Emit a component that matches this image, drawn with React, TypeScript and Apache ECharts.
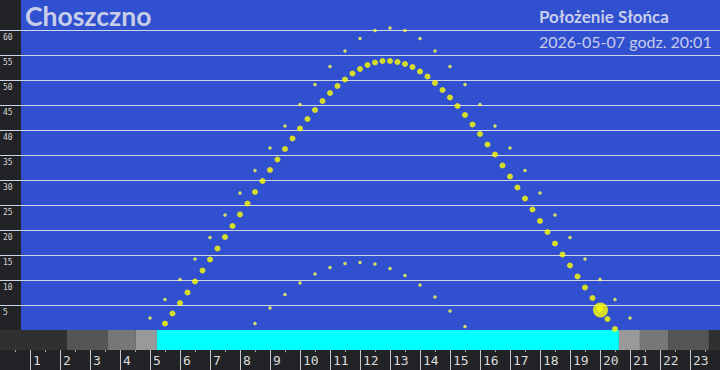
import React, { useEffect, useRef } from 'react';
import * as echarts from 'echarts';

// Sun altitude (degrees) today, every 15 minutes
const todayHours = [
  5.5, 5.75, 6, 6.25, 6.5, 6.75, 7, 7.25, 7.5, 7.75, 8, 8.25, 8.5, 8.75, 9, 9.25,
  9.5, 9.75, 10, 10.25, 10.5, 10.75, 11, 11.25, 11.5, 11.75, 12, 12.25, 12.5, 12.75,
  13, 13.25, 13.5, 13.75, 14, 14.25, 14.5, 14.75, 15, 15.25, 15.5, 15.75, 16, 16.25,
  16.5, 16.75, 17, 17.25, 17.5, 17.75, 18, 18.25, 18.5, 18.75, 19, 19.25, 19.5, 19.75,
  20, 20.25, 20.5,
];
const todayAltitude = [
  1.3, 3.3, 5.4, 7.5, 9.7, 11.9, 14.1, 16.3, 18.6, 20.8, 23.1, 25.3, 27.6, 29.8, 32.0, 34.1,
  36.2, 38.3, 40.3, 42.2, 44.0, 45.8, 47.4, 48.8, 50.1, 51.3, 52.2, 53.0, 53.5, 53.8,
  53.8, 53.6, 53.2, 52.6, 51.7, 50.7, 49.4, 48.0, 46.5, 44.8, 43.0, 41.1, 39.2, 37.1,
  35.1, 32.9, 30.7, 28.5, 26.3, 24.1, 21.8, 19.6, 17.3, 15.1, 12.9, 10.7, 8.5, 6.4,
  4.2, 2.2, 0.2,
];

// Summer solstice path, every 30 minutes
const summerHours = [
  5, 5.5, 6, 6.5, 7, 7.5, 8, 8.5, 9, 9.5, 10, 10.5, 11, 11.5, 12, 12.5, 13,
  13.5, 14, 14.5, 15, 15.5, 16, 16.5, 17, 17.5, 18, 18.5, 19, 19.5, 20, 20.5, 21,
];
const summerAltitude = [
  2.4, 6.1, 10.1, 14.2, 18.5, 23.0, 27.4, 31.9, 36.4, 40.8, 45.1, 49.1, 52.7, 55.8, 58.3, 59.9, 60.4,
  59.9, 58.3, 55.8, 52.7, 49.1, 45.1, 40.8, 36.4, 31.9, 27.4, 23.0, 18.5, 14.2, 10.1, 6.1, 2.4,
];

// Winter solstice path, every 30 minutes
const winterHours = [8.5, 9, 9.5, 10, 10.5, 11, 11.5, 12, 12.5, 13, 13.5, 14, 14.5, 15, 15.5];
const winterAltitude = [1.3, 4.4, 7.1, 9.4, 11.2, 12.5, 13.3, 13.5, 13.2, 12.3, 10.9, 9.0, 6.6, 3.8, 0.7];

// Current sun position
const nowHour = 20.017;
const nowAltitude = 4.0;

// Day / twilight band
const bandStart = [0, 2.23, 3.6, 4.53, 5.23, 20.63, 21.33, 22.27, 23.63];
const bandEnd = [2.23, 3.6, 4.53, 5.23, 20.63, 21.33, 22.27, 23.63, 24];
const bandKind = [0, 1, 2, 3, 4, 3, 2, 1, 0];
const bandColors = ['#303030', '#555555', '#777777', '#999999', '#00ffff'];

const titleText = 'Choszczno';
const subtitleText = 'Położenie Słońca';
const dateText = '2026-05-07 godz. 20:01';

export default function App() {
  const ref = useRef<HTMLDivElement>(null);
  useEffect(() => {
    if (!ref.current) return;
    const chart = echarts.init(ref.current, null, { renderer: 'svg' });
    const textColor = '#c8cdea';
    chart.setOption({
      animation: false,
      backgroundColor: '#222326',
      title: [
        { text: titleText, left: 25, top: 2, padding: 0, textStyle: { fontFamily: 'Lato', fontWeight: 'bold', fontSize: 26.5, color: textColor } },
        { text: subtitleText, left: 539, top: 8, padding: 0, textStyle: { fontFamily: 'Lato', fontWeight: 'bold', fontSize: 17, color: textColor } },
        { text: dateText, left: 539, top: 33, padding: 0, textStyle: { fontFamily: 'Lato', fontWeight: 'normal', fontSize: 16, color: textColor } },
      ],
      graphic: [
        { type: 'rect', z: -100, shape: { x: 21, y: 0, width: 699, height: 330 }, style: { fill: '#3050d0' } },
        { type: 'rect', z: 100, shape: { x: 0, y: 350, width: 2, height: 20 }, style: { fill: '#222326' } },
      ],
      grid: [
        { left: 0, right: 0, top: 30, bottom: 40, containLabel: false, outerBoundsMode: 'none' },
        { left: 0, right: 0, top: 330, height: 20, containLabel: false, outerBoundsMode: 'none' },
      ],
      xAxis: [
        { gridIndex: 0, type: 'value', min: 0, max: 24, show: false },
        {
          gridIndex: 1, type: 'value', min: 0, max: 24, interval: 1, position: 'bottom',
          axisLine: { show: false },
          axisTick: { show: true, inside: false, length: 20, lineStyle: { color: '#c8c8c8', width: 1 } },
          minorTick: { show: true, splitNumber: 2, length: 2, lineStyle: { color: '#a8a8a8', width: 1 } },
          splitLine: { show: false },
          axisLabel: {
            margin: 10, align: 'left', verticalAlign: 'middle', padding: [0, 0, 0, 3],
            showMinLabel: false, showMaxLabel: false, hideOverlap: false,
            fontFamily: 'DejaVu Sans Mono', fontSize: 13, color: '#dddddd',
            formatter: (v: number) => (v > 0 && v < 24 ? String(v) : ''),
          },
        },
      ],
      yAxis: [
        {
          gridIndex: 0, type: 'value', min: 0, max: 60, interval: 5, position: 'left',
          axisLine: { show: false }, axisTick: { show: false },
          splitLine: { show: true, showMinLine: false, lineStyle: { color: '#d0d4e8', width: 1 } },
          axisLabel: {
            inside: true, margin: 3, align: 'left', verticalAlign: 'top', padding: [3, 0, 0, 0],
            fontFamily: 'DejaVu Sans Mono', fontSize: 8, color: '#d8d8d8',
            formatter: (v: number) => (v > 0 ? String(v) : ''),
          },
        },
        { gridIndex: 1, type: 'value', min: 0, max: 1, show: false },
      ],
      series: [
        {
          type: 'custom', xAxisIndex: 1, yAxisIndex: 1,
          data: bandStart.map((s, i) => [s, bandEnd[i], bandKind[i]]),
          encode: { x: [0, 1] },
          renderItem: (params: any, api: any) => {
            const a = api.coord([api.value(0), 1]);
            const b = api.coord([api.value(1), 0]);
            return {
              type: 'rect',
              shape: { x: a[0], y: a[1], width: b[0] - a[0], height: b[1] - a[1] },
              style: { fill: bandColors[api.value(2)] },
            };
          },
          silent: true,
        },
        {
          type: 'scatter', xAxisIndex: 0, yAxisIndex: 0, symbol: 'circle', symbolSize: 3.5,
          itemStyle: { color: '#ffff50' }, clip: false,
          data: summerHours.map((h, i) => [h, summerAltitude[i]]),
        },
        {
          type: 'scatter', xAxisIndex: 0, yAxisIndex: 0, symbol: 'circle', symbolSize: 3.5,
          itemStyle: { color: '#ffff50' }, clip: false,
          data: winterHours.map((h, i) => [h, winterAltitude[i]]),
        },
        {
          type: 'scatter', xAxisIndex: 0, yAxisIndex: 0, symbol: 'circle', symbolSize: 6,
          itemStyle: { color: '#ffff00' }, clip: false,
          data: todayHours.map((h, i) => [h, todayAltitude[i]]),
        },
        {
          type: 'scatter', xAxisIndex: 0, yAxisIndex: 0, symbol: 'circle', symbolSize: 15,
          itemStyle: { color: '#ffff00' }, clip: false, z: 5,
          data: [[nowHour, nowAltitude]],
        },
      ],
    });
    return () => chart.dispose();
  }, []);
  return <div ref={ref} style={{ width: 720, height: 370, position: 'absolute', left: 0, top: 0 }} />;
}
